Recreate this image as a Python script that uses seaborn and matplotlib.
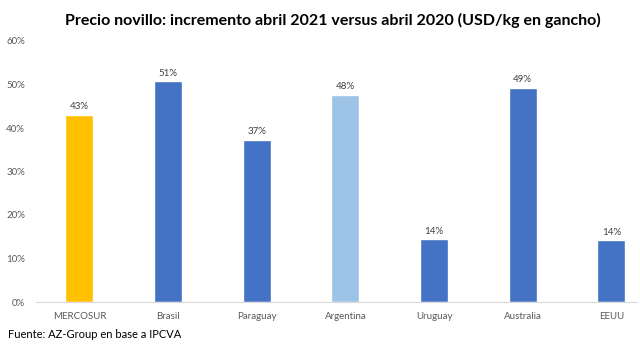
import matplotlib
matplotlib.use("Agg")
import matplotlib.pyplot as plt
import seaborn as sns
import pandas as pd

paises = ["MERCOSUR", "Brasil", "Paraguay", "Argentina", "Uruguay", "Australia", "EEUU"]
incremento = [43.0, 50.8, 37.3, 47.6, 14.4, 49.2, 14.2]
colores = ["#FFC000", "#4472C4", "#4472C4", "#9DC3E6", "#4472C4", "#4472C4", "#4472C4"]
yticks = [0, 10, 20, 30, 40, 50, 60]

df = pd.DataFrame({"pais": paises, "inc": incremento})

sns.set_style("white")
plt.rcParams["font.family"] = ["Lato", "DejaVu Sans"]

fig = plt.figure(figsize=(6.4, 3.52), dpi=100)
ax = fig.add_axes([36 / 640, 50 / 352, 601 / 640, 261 / 352])

sns.barplot(data=df, x="pais", y="inc", hue="pais", palette=colores,
            legend=False, width=0.315, saturation=1, ax=ax)

for i, v in enumerate(incremento):
    ax.text(i, v + 0.8, f"{round(v)}%", ha="center", va="bottom",
            fontsize=7, color="#404040")

ax.set_xlim(-0.49, 6.29)
ax.set_ylim(0, 60)
ax.set_yticks(yticks)
ax.set_yticklabels([f"{t}%" for t in yticks])
ax.set_xlabel("")
ax.set_ylabel("")
ax.tick_params(axis="both", length=0, labelsize=7, labelcolor="#595959")
ax.tick_params(axis="y", pad=8)
ax.tick_params(axis="x", pad=7)
for s in ["top", "right", "left"]:
    ax.spines[s].set_visible(False)
ax.spines["bottom"].set_color("#D9D9D9")
ax.grid(False)

fig.text(0.52, 1 - 20 / 352, "Precio novillo: incremento abril 2021 versus abril 2020 (USD/kg en gancho)",
         ha="center", va="center", fontsize=11.5, fontweight="bold", color="black")
fig.text(8 / 640, 1 - 335 / 352, "Fuente: AZ-Group en base a IPCVA",
         ha="left", va="center", fontsize=8, color="black")

fig.savefig("out.png", dpi=100)
